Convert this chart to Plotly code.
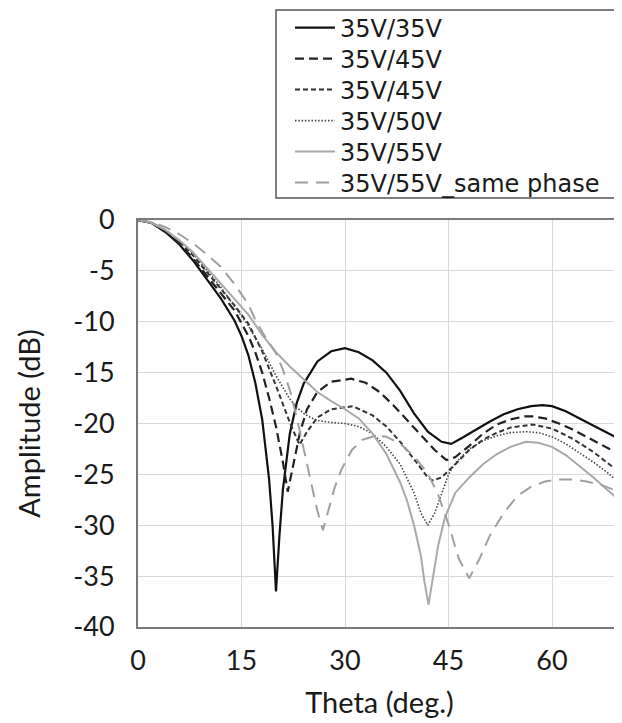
import plotly.graph_objects as go

# ---------------- data ----------------
names = ["35V/35V", "35V/45V", "35V/45V", "35V/50V", "35V/55V", "35V/55V_same phase"]

th_3535 = [0, 2, 4, 6, 8, 10, 12, 14, 15, 16, 17, 18, 19, 19.5, 20, 20.5, 21, 22, 23, 24, 26, 28, 30,
           32, 34, 36, 38, 40, 42, 44, 45.4, 47, 49, 51, 53, 55, 57, 58.6, 60, 62, 64, 66, 68, 70]
db_3535 = [0, -0.3, -1.2, -2.4, -4.0, -5.8, -7.7, -9.9, -11.4, -13.3, -16.0, -19.6, -25.5, -30.0, -36.5,
           -31.0, -26.5, -21.0, -18.0, -16.1, -13.9, -12.9, -12.6,
           -13.0, -13.8, -15.0, -16.8, -19.0, -20.8, -21.8, -22.0, -21.4, -20.6, -19.8, -19.1, -18.6, -18.3,
           -18.2, -18.3, -18.8, -19.5, -20.2, -20.9, -21.6]

th_3545a = [0, 2, 4, 6, 8, 10, 12, 14, 16, 17, 18, 19, 20, 21, 21.7, 22.5, 23.5, 24.5, 26, 28, 30.9, 33,
            35, 37, 39, 41, 43, 44.7, 46, 48, 50, 52, 54, 56, 57.2, 59, 61, 63, 65, 67, 70]
db_3545a = [0, -0.3, -1.1, -2.3, -3.8, -5.5, -7.1, -8.9, -11.4, -13.0, -15.0, -17.5, -20.3, -23.8, -26.7,
            -24.0, -20.8, -18.6, -16.9, -15.9, -15.6, -16.0, -16.9, -18.2, -19.7, -21.2, -22.6, -23.6,
            -23.3, -22.2, -21.0, -20.1, -19.6, -19.3, -19.3, -19.5, -20.0, -20.6, -21.3, -22.0, -23.1]

th_3545b = [0, 2, 4, 6, 8, 10, 12, 14, 16, 18, 20, 22, 23.4, 24.5, 26, 28, 31.1, 34, 36, 38, 40, 42, 42.7,
            44, 46, 48, 50, 52, 54, 57.2, 60, 63, 66, 70]
db_3545b = [0, -0.3, -1.0, -2.1, -3.5, -5.1, -6.8, -8.4, -10.2, -12.9, -16.3, -19.9, -22.1, -20.8, -19.4,
            -18.6, -18.3, -19.2, -20.3, -21.8, -23.5, -25.3, -25.6, -25.3, -24.0, -22.6, -21.6, -20.9,
            -20.4, -20.1, -20.5, -21.5, -22.8, -24.9]

th_3550 = [0, 2, 4, 6, 8, 10, 12, 14, 16, 18, 20, 22, 23, 24, 25, 26, 28, 30, 32, 34, 36, 38, 40, 41, 42,
           43, 44, 45, 46, 48, 50, 52, 54, 56.2, 58, 60, 62, 64, 66, 68, 70]
db_3550 = [0, -0.3, -1.0, -2.0, -3.3, -4.9, -6.6, -8.5, -10.4, -12.7, -15.3, -17.6, -18.4, -19.0, -19.4,
           -19.7, -19.9, -20.0, -20.3, -21.0, -22.3, -24.0, -26.8, -28.8, -30.0, -28.8, -26.8, -25.0,
           -23.9, -22.5, -21.7, -21.2, -20.9, -20.8, -20.9, -21.3, -22.0, -22.9, -23.8, -24.8, -26.0]

th_3555 = [0, 2, 4, 6, 8, 10, 12, 14, 16, 18, 20, 22, 24, 26, 28, 30, 32, 34, 36, 38, 39, 40, 41, 41.5,
           42.1, 42.7, 43.5, 44.5, 46, 48, 50, 52, 54, 56.2, 58, 60, 62, 64, 66, 68, 70]
db_3555 = [0, -0.3, -1.0, -2.0, -3.2, -4.7, -6.2, -7.8, -9.3, -11.3, -13.0, -14.4, -15.7, -16.9, -17.8,
           -18.6, -19.5, -21.0, -23.0, -25.8, -27.6, -30.0, -33.0, -35.5, -37.8, -35.2, -32.0, -29.2,
           -26.8, -25.3, -24.0, -23.0, -22.3, -21.8, -21.9, -22.3, -23.1, -24.2, -25.3, -26.5, -27.7]

th_same = [0, 2, 4, 6, 8, 10, 12, 14, 16, 17, 18, 19, 20, 21, 22, 23, 24, 25, 26, 26.8, 27.6, 28.5, 29.5,
           31, 32.5, 34.5, 36, 38, 40, 42, 43.5, 45, 46.5, 48, 49.5, 51, 53, 55, 57, 59, 61, 63, 65, 67, 70]
db_same = [0, -0.2, -0.7, -1.4, -2.3, -3.4, -4.6, -6.3, -8.3, -9.8, -11.0, -12.1, -13.1, -14.7, -16.7,
           -19.4, -22.5, -25.6, -28.6, -30.5, -28.5, -26.3, -24.5, -22.6, -21.6, -21.2, -21.3, -22.0,
           -23.2, -24.9, -27.0, -29.9, -33.3, -35.2, -33.3, -31.0, -28.8, -27.1, -26.2, -25.7, -25.5,
           -25.5, -25.7, -26.0, -26.8]

x_ticks = [0, 15, 30, 45, 60]
y_ticks = [0, -5, -10, -15, -20, -25, -30, -35, -40]
y_tick_text = ["0", "-5", "-10", "-15", "-20", "-25", "-30", "-35", "-40"]

# ---------------- figure ----------------
series = [
    (th_3535, db_3535, dict(color="#111111", width=2.2, dash="solid")),
    (th_3545a, db_3545a, dict(color="#222222", width=2.2, dash="9px,5px")),
    (th_3545b, db_3545b, dict(color="#333333", width=2.0, dash="5px,3px")),
    (th_3550, db_3550, dict(color="#444444", width=1.6, dash="1.5px,1.8px")),
    (th_3555, db_3555, dict(color="#a9a9a9", width=2.0, dash="solid")),
    (th_same, db_same, dict(color="#a0a0a0", width=2.0, dash="13px,8px")),
]

# page body has an 8px margin: plot area targets are in window pixels
OFF = 8
PL, PR, PT, PB = 138 - OFF, 621 - OFF, 220 - OFF, 627 - OFF
W, H = 622 - OFF, 723 - OFF

def px_to_paper_x(px):
    return (px - OFF - PL) / (PR - PL)

def py_to_paper_y(py):
    return (PB - (py - OFF)) / (PB - PT)

legend_ids = ["legend", "legend2", "legend3", "legend4", "legend5", "legend6"]
row_centres = [28, 59, 90, 121, 152, 183]

fig = go.Figure()
for (xs, ys, ln), nm, lid in zip(series, names, legend_ids):
    fig.add_trace(go.Scatter(x=xs, y=ys, mode="lines", name=nm, line=ln, legend=lid))

tick_font = dict(family="Lato, Liberation Sans, sans-serif", size=27, color="#1a1a1a")
title_font = dict(family="Lato, Liberation Sans, sans-serif", size=29, color="#1a1a1a")
legend_font = dict(family="DejaVu Sans, sans-serif", size=24, color="#1a1a1a")

legend_layouts = {}
for lid, yc in zip(legend_ids, row_centres):
    legend_layouts[lid] = dict(
        x=px_to_paper_x(290), y=py_to_paper_y(yc), xanchor="left", yanchor="middle",
        font=legend_font, bgcolor="rgba(0,0,0,0)", borderwidth=0, itemwidth=40,
    )

fig.update_layout(
    width=W, height=H,
    margin=dict(l=PL, r=W - PR, t=PT, b=H - PB, autoexpand=False),
    paper_bgcolor="white", plot_bgcolor="white",
    showlegend=True,
    shapes=[dict(type="rect", xref="paper", yref="paper",
                 x0=px_to_paper_x(276), x1=px_to_paper_x(620),
                 y0=py_to_paper_y(198), y1=py_to_paper_y(10),
                 line=dict(color="#555555", width=1.5), fillcolor="white", layer="below")],
    xaxis=dict(
        range=[0, 70], tickvals=x_ticks, showgrid=True, gridcolor="#d9d9d9", gridwidth=1,
        showline=True, linecolor="#7a7a7a", linewidth=2, mirror=True, zeroline=False,
        ticks="", tickfont=tick_font, ticklabelstandoff=9,
        title=dict(text="Theta (deg.)", font=title_font, standoff=17),
    ),
    yaxis=dict(
        range=[-40, 0], tickvals=y_ticks, ticktext=y_tick_text, showgrid=True, gridcolor="#d9d9d9",
        gridwidth=1, showline=True, linecolor="#7a7a7a", linewidth=2, mirror=True, zeroline=False,
        ticks="", tickfont=tick_font, ticklabelstandoff=16,
        title=dict(text="Amplitude (dB)", font=title_font, standoff=24),
    ),
    **legend_layouts,
)

fig.write_html("out.html")
